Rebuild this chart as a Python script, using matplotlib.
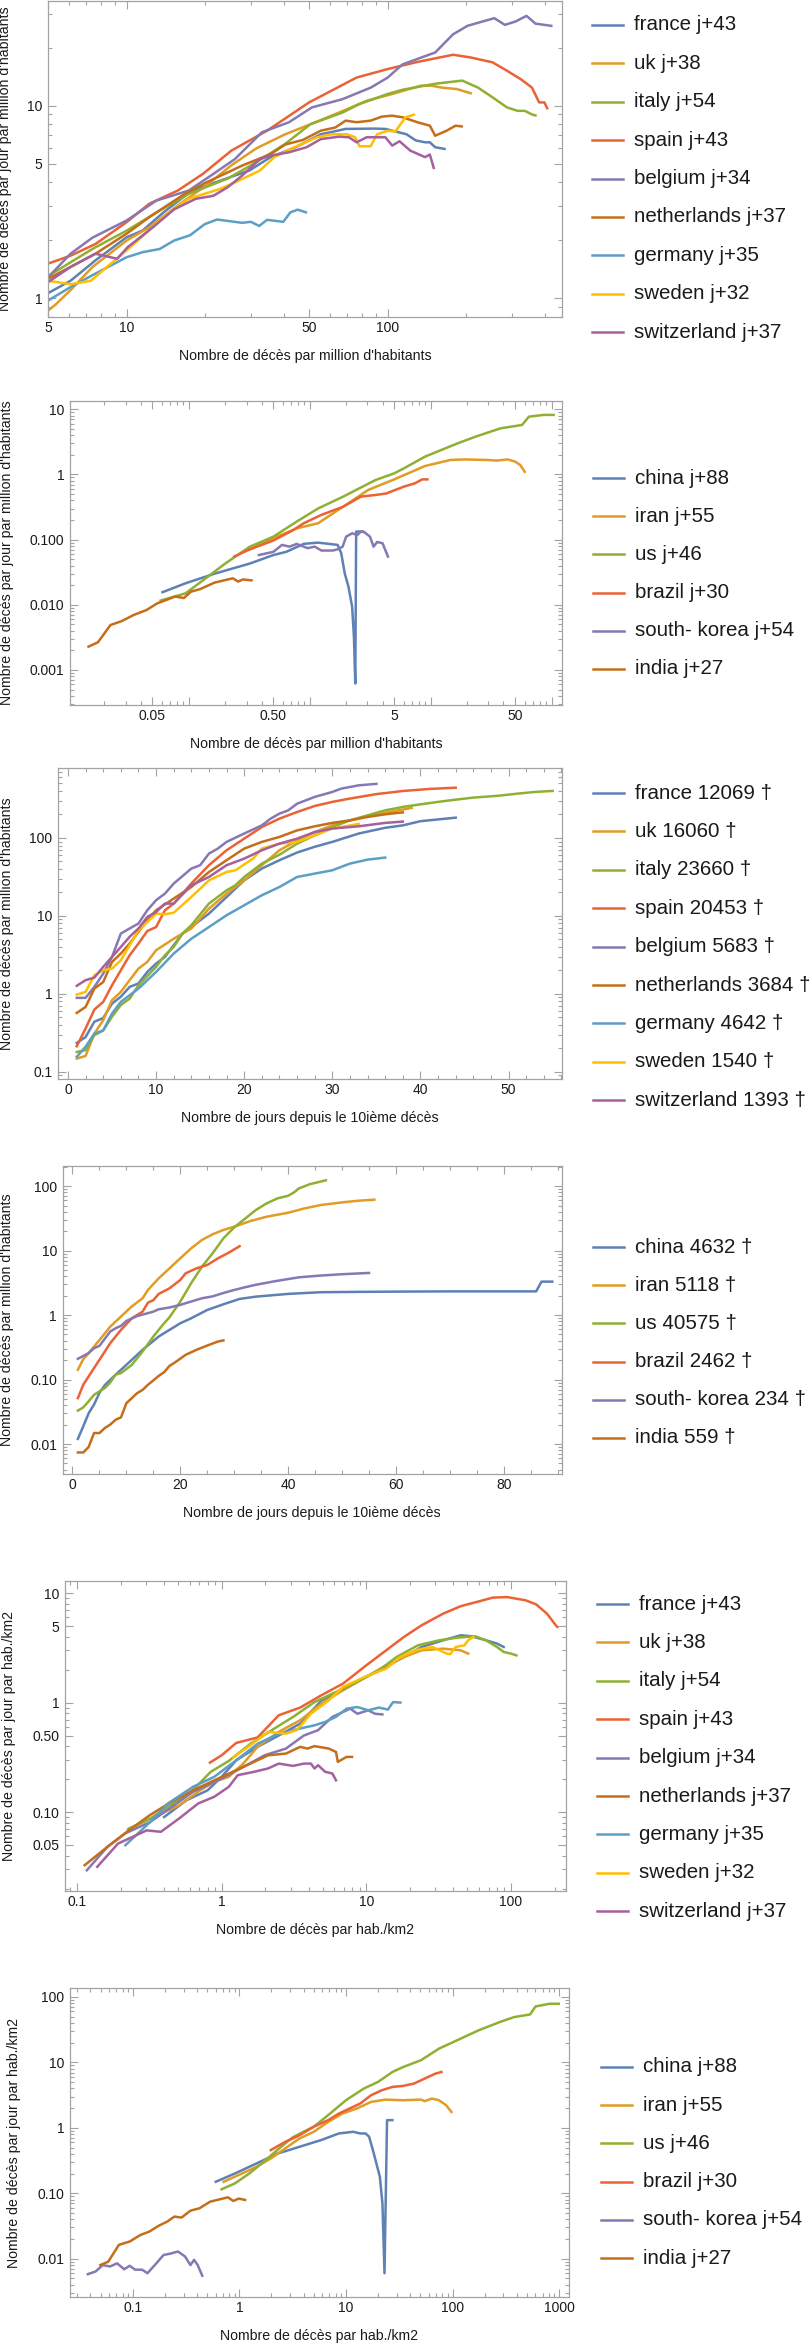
"""Covid-19 death curves per country: six stacked log panels, Mathematica look."""
import matplotlib
matplotlib.use("Agg")
import matplotlib.pyplot as plt
from matplotlib.lines import Line2D
from matplotlib.ticker import FixedLocator, FixedFormatter, NullFormatter

W, H = 809, 2345
plt.rcParams["font.family"] = ["Liberation Sans", "DejaVu Sans"]

COLORS = {
    "france": "#5E81B5", "uk": "#E19C24", "italy": "#8FB032", "spain": "#EB6235",
    "belgium": "#8778B3", "netherlands": "#C56E1A", "germany": "#5D9EC7",
    "sweden": "#FFBF00", "switzerland": "#A5609D",
    "china": "#5E81B5", "iran": "#E19C24", "us": "#8FB032", "brazil": "#EB6235",
    "south_korea": "#8778B3", "india": "#C56E1A",
}
EUROPE = ["france", "uk", "italy", "spain", "belgium", "netherlands", "germany", "sweden", "switzerland"]
OTHERS = ["china", "iran", "us", "brazil", "south_korea", "india"]
NAMES = {"south_korea": "south- korea"}

lag_eu = [43, 38, 54, 43, 34, 37, 35, 32, 37]
lag_ot = [88, 55, 46, 30, 54, 27]
deaths_eu = [12069, 16060, 23660, 20453, 5683, 3684, 4642, 1540, 1393]
deaths_ot = [4632, 5118, 40575, 2462, 234, 559]

# panel 1 : daily deaths per million vs cumulative deaths per million (Europe)
p1_x = {
    "france": [5, 6.1, 7.6, 10, 11.5, 13.9, 17.8, 22.9, 29.5, 35.6, 44.4, 55.4, 69, 89, 98, 118, 128, 139, 145, 152, 165],
    "uk": [5, 5.37, 6.1, 7.4, 10, 12.2, 15.7, 20.2, 25.2, 31.4, 40.5, 50.5, 65, 83, 104, 134, 147, 162, 184, 208],
    "italy": [5, 7.4, 10, 13.4, 17.3, 24.4, 31.4, 40.5, 50.5, 67, 78, 100, 114, 152, 193, 222, 252, 286, 314, 335, 357, 368],
    "spain": [5, 6.1, 7.6, 10, 12.2, 15.7, 19.6, 25.2, 34.5, 50, 76, 100, 128, 178, 208, 252, 286, 324, 357, 380, 398, 408],
    "belgium": [5, 6.1, 7.4, 10, 13.0, 17.3, 21.5, 26, 33, 41.8, 51.3, 67, 86, 100, 114, 152, 178, 202, 256, 281, 309, 340, 368, 423],
    "netherlands": [5, 7.6, 10, 12.2, 16.7, 20.2, 27.7, 35.6, 40.5, 47.4, 55.4, 63, 69, 76, 86, 95, 104, 114, 130, 145, 152, 168, 182, 192],
    "germany": [5, 6.1, 7.6, 10, 11.5, 13.4, 15.2, 17.5, 19.9, 22.2, 27.7, 29.9, 32.2, 34.5, 39.8, 42.4, 45.2, 48.6],
    "sweden": [5, 6.1, 7.3, 8.4, 10, 11.8, 14.3, 17.3, 22.9, 26, 32.4, 36.8, 44.4, 53.6, 60.9, 70, 75, 78, 86, 91, 99.7, 107, 117, 126],
    "switzerland": [5, 6.1, 7.6, 9.2, 10.1, 12.6, 15.2, 18.4, 21.5, 24.4, 27.7, 32.4, 35.6, 41.8, 48.9, 55.4, 65, 71, 76, 83, 98, 104, 111, 122, 139, 145, 150],
}
p1_y = {
    "france": [1.06, 1.23, 1.57, 2.07, 2.24, 2.8, 3.62, 4.08, 4.6, 5.4, 6.08, 7.1, 7.57, 7.6, 7.57, 7.1, 6.6, 6.45, 6.45, 6.08, 5.96],
    "uk": [0.86, 0.93, 1.10, 1.45, 1.99, 2.33, 3.03, 3.85, 4.9, 6.0, 7.1, 8.0, 9.2, 10.6, 11.5, 12.7, 12.7, 12.4, 12.2, 11.6],
    "italy": [1.30, 1.80, 2.24, 2.85, 3.48, 4.18, 5.08, 6.33, 8.0, 9.2, 10.2, 11.5, 12.1, 13.0, 13.5, 12.4, 11.05, 9.8, 9.4, 9.4, 9.0, 8.9],
    "spain": [1.51, 1.66, 1.91, 2.48, 3.09, 3.62, 4.42, 5.84, 7.41, 10.4, 14.0, 15.5, 16.8, 18.4, 17.8, 16.8, 15.2, 13.7, 12.4, 10.4, 10.4, 9.7],
    "belgium": [1.28, 1.70, 2.06, 2.53, 3.21, 3.62, 4.42, 5.28, 7.28, 8.19, 9.8, 10.8, 12.4, 14.0, 16.4, 18.9, 23.5, 26.0, 28.5, 26.3, 27.4, 29.3, 26.7, 26.0],
    "netherlands": [1.26, 1.70, 2.16, 2.63, 3.48, 3.99, 4.88, 5.6, 6.28, 6.64, 7.41, 7.7, 8.36, 8.2, 8.36, 8.77, 8.87, 8.7, 8.2, 7.87, 6.98, 7.41, 7.87, 7.8],
    "germany": [0.97, 1.14, 1.34, 1.63, 1.73, 1.80, 1.99, 2.12, 2.42, 2.56, 2.46, 2.49, 2.37, 2.55, 2.49, 2.79, 2.88, 2.79],
    "sweden": [1.23, 1.18, 1.23, 1.45, 1.77, 2.16, 2.74, 3.28, 3.7, 3.99, 4.6, 5.4, 6.12, 6.85, 7.1, 7.1, 6.85, 6.15, 6.15, 7.1, 7.4, 7.35, 8.7, 8.98],
    "switzerland": [1.21, 1.45, 1.70, 1.60, 1.84, 2.33, 2.89, 3.28, 3.4, 3.77, 4.33, 5.28, 5.5, 5.72, 6.08, 6.7, 6.9, 6.85, 6.45, 6.85, 6.85, 6.2, 6.53, 5.84, 5.4, 5.57, 4.75],
}

# panel 2 : same, other countries
p2_x = {
    "china": [0.0605, 0.094, 0.163, 0.32, 0.5, 0.64, 0.89, 1.17, 1.44, 1.70, 1.82, 1.95, 2.09, 2.24, 2.32, 2.38, 2.42, 2.55, 2.75],
    "iran": [0.32, 0.5, 0.78, 1.17, 1.89, 3.04, 5, 9.0, 14.6, 19.1, 28.8, 35.3, 43.3, 49.7, 55, 60],
    "us": [0.0585, 0.094, 0.132, 0.2, 0.32, 0.5, 0.78, 1.17, 1.89, 3.49, 5, 6.0, 9.0, 16.7, 23.5, 37.8, 57, 65, 86, 104],
    "brazil": [0.237, 0.32, 0.5, 0.73, 0.89, 1.25, 1.89, 2.65, 3.49, 4.28, 6.0, 7.4, 8.5, 9.4],
    "south_korea": [0.38, 0.5, 0.59, 0.68, 0.78, 0.96, 1.1, 1.25, 1.55, 1.7, 1.87, 2.0, 2.24, 2.48, 2.65, 2.83, 3.15, 3.37, 3.61, 4.0, 4.43],
    "india": [0.0148, 0.0177, 0.0225, 0.0277, 0.0351, 0.0446, 0.0546, 0.067, 0.0768, 0.091, 0.104, 0.124, 0.163, 0.231, 0.256, 0.28, 0.33],
}
p2_y = {
    "china": [0.0156, 0.0214, 0.030, 0.043, 0.058, 0.065, 0.086, 0.090, 0.086, 0.083, 0.062, 0.030, 0.019, 0.0094, 0.00325, 0.00062, 0.133, 0.133, 0.133],
    "iran": [0.071, 0.105, 0.149, 0.178, 0.32, 0.578, 0.84, 1.35, 1.67, 1.70, 1.67, 1.63, 1.70, 1.58, 1.40, 1.10],
    "us": [0.0116, 0.015, 0.024, 0.043, 0.078, 0.111, 0.189, 0.30, 0.457, 0.82, 1.04, 1.24, 1.88, 3.0, 3.8, 5.1, 5.75, 7.7, 8.2, 8.2],
    "brazil": [0.055, 0.071, 0.097, 0.14, 0.178, 0.24, 0.32, 0.457, 0.484, 0.51, 0.65, 0.73, 0.84, 0.84],
    "south_korea": [0.058, 0.065, 0.083, 0.078, 0.086, 0.074, 0.078, 0.068, 0.068, 0.071, 0.078, 0.111, 0.125, 0.118, 0.133, 0.13, 0.111, 0.078, 0.092, 0.088, 0.055],
    "india": [0.00228, 0.00266, 0.0049, 0.0056, 0.007, 0.0083, 0.0105, 0.0121, 0.0134, 0.0127, 0.0159, 0.0174, 0.0219, 0.0255, 0.0227, 0.0245, 0.0237],
}

# panel 3 : cumulative deaths per million vs days since 10th death (Europe)
p3_days = {
    "france": [1, 2, 3, 4, 5, 6, 7, 8, 9, 10, 11, 13, 15, 16, 18, 20, 22, 24, 26, 28, 30, 33, 36, 38, 40, 44],
    "uk": [1, 2, 3, 4, 5, 6, 7, 8, 9, 10, 12, 14, 16, 18, 20, 22, 24, 26, 28, 30, 32, 34, 36, 39],
    "italy": [1, 2, 3, 4, 5, 6, 7, 8, 10, 11, 12, 13, 14, 16, 18, 19, 20, 22, 24, 26, 28, 30, 32, 34, 36, 38, 40, 42, 44, 46, 49, 51, 53, 55],
    "spain": [1, 2, 3, 4, 5, 6, 7, 8, 9, 10, 11, 12, 14, 16, 18, 20, 22, 24, 26, 28, 30, 32, 35, 38, 41, 44],
    "belgium": [1, 2, 3, 4, 5, 6, 7, 8, 9, 10, 11, 12, 14, 15, 16, 17, 18, 20, 22, 23, 24, 25, 26, 28, 30, 31, 33, 35],
    "netherlands": [1, 2, 3, 4, 5, 6, 7, 8, 9, 10, 12, 14, 16, 18, 20, 22, 24, 26, 28, 30, 32, 34, 36, 38],
    "germany": [1, 2, 3, 4, 5, 6, 7, 8, 10, 12, 14, 16, 18, 20, 22, 24, 26, 28, 30, 32, 34, 36],
    "sweden": [1, 2, 3, 4, 5, 6, 7, 8, 10, 11, 12, 14, 16, 18, 19, 21, 22, 24, 26, 28, 30, 33],
    "switzerland": [1, 2, 3, 4, 5, 6, 7, 8, 9, 10, 11, 12, 14, 16, 18, 20, 22, 24, 26, 28, 30, 33, 36, 38],
}
p3_y = {
    "france": [0.235, 0.28, 0.44, 0.49, 0.75, 0.92, 1.23, 1.36, 1.91, 2.45, 2.98, 5.94, 8.8, 10.7, 17.5, 28.6, 40.5, 51.8, 65, 77, 89, 114, 135, 145, 164, 182],
    "uk": [0.148, 0.16, 0.31, 0.46, 0.83, 1.06, 1.5, 2.11, 2.57, 3.63, 5.1, 6.9, 12.4, 19.3, 28.6, 44.7, 69.5, 93, 119, 145, 168, 190, 210, 243],
    "italy": [0.18, 0.19, 0.295, 0.34, 0.51, 0.72, 0.87, 1.29, 2.22, 3.13, 4.0, 5.94, 7.6, 14.4, 21.3, 24.7, 31.6, 46.9, 61, 84.5, 108, 138, 168, 195, 226, 250, 270, 290, 310, 329, 349, 370, 389, 401],
    "spain": [0.213, 0.36, 0.63, 0.79, 1.29, 2.01, 3.13, 4.42, 6.4, 7.2, 11.8, 14.4, 26, 44.7, 69.5, 98, 138, 177, 215, 257, 290, 320, 365, 400, 425, 441],
    "belgium": [0.89, 0.89, 1.23, 1.82, 2.98, 5.94, 6.9, 8.0, 11.8, 15.9, 19.3, 26.0, 40.5, 44.7, 63, 73, 89, 114, 145, 177, 205, 226, 275, 336, 389, 429, 473, 494],
    "netherlands": [0.57, 0.68, 1.17, 1.42, 2.57, 3.29, 4.42, 6.24, 8.8, 11.8, 16.7, 23.5, 36.6, 51.8, 73, 89, 103, 125, 141, 156, 168, 186, 201, 213],
    "germany": [0.156, 0.21, 0.31, 0.34, 0.56, 0.79, 0.96, 1.17, 1.91, 3.29, 5.1, 7.2, 10.2, 13.7, 18.4, 23.5, 31.6, 34.9, 38.5, 46.9, 52.7, 56],
    "sweden": [0.98, 1.06, 1.73, 2.01, 2.11, 2.7, 4.2, 6.5, 10.7, 10.5, 11.0, 17.5, 28.6, 36.6, 38.5, 54.3, 73, 84.5, 89, 108, 132, 151],
    "switzerland": [1.27, 1.5, 1.62, 2.22, 2.98, 4.0, 5.4, 6.9, 9.7, 11.2, 14.4, 14.4, 24.7, 31.6, 44.7, 54.3, 69.5, 84.5, 98, 119, 132, 141, 156, 162],
}

# panel 4 : same, other countries
p4_days = {
    "china": [1, 2, 3, 4, 5, 6, 8, 10, 13, 16, 20, 22, 25, 28, 31, 34, 40, 46, 53, 60, 70, 80, 86, 87, 89],
    "iran": [1, 2, 3, 5, 7, 9, 11, 13, 14, 16, 18, 20, 22, 24, 26, 28, 30, 33, 36, 40, 43, 46, 50, 53, 56],
    "us": [1, 2, 3, 4, 6, 7, 8, 9, 11, 13, 15, 17, 18, 20, 22, 24, 26, 28, 30, 32, 34, 36, 38, 40, 41, 42, 44, 47],
    "brazil": [1, 2, 3, 5, 7, 9, 11, 13, 14, 15, 16, 18, 20, 21, 23, 25, 27, 29, 31],
    "south_korea": [1, 3, 4, 5, 7, 8, 9, 10, 12, 14, 15, 16, 18, 20, 22, 24, 26, 28, 30, 32, 34, 38, 42, 46, 50, 55],
    "india": [1, 2, 3, 4, 5, 6, 7, 8, 9, 10, 11, 12, 13, 14, 15, 16, 17, 18, 19, 21, 23, 25, 27, 28],
}
p4_y = {
    "china": [0.012, 0.0188, 0.030, 0.041, 0.062, 0.082, 0.119, 0.169, 0.289, 0.465, 0.747, 0.89, 1.2, 1.47, 1.78, 1.93, 2.13, 2.26, 2.29, 2.31, 2.33, 2.33, 2.33, 3.3, 3.3],
    "iran": [0.142, 0.207, 0.257, 0.41, 0.66, 0.95, 1.36, 1.82, 2.45, 3.72, 5.3, 7.6, 10.8, 14.6, 17.9, 20.9, 23.5, 28.7, 33.5, 38.6, 45, 50.8, 55.9, 59.3, 61.6],
    "us": [0.033, 0.037, 0.046, 0.058, 0.074, 0.090, 0.119, 0.126, 0.169, 0.272, 0.465, 0.747, 0.925, 1.62, 3.11, 5.6, 9.1, 15.5, 22.9, 31.2, 42.5, 53.9, 64.4, 70.8, 78.9, 92, 107, 123],
    "brazil": [0.0515, 0.083, 0.112, 0.202, 0.366, 0.59, 0.89, 1.13, 1.56, 1.70, 2.13, 2.6, 3.5, 4.45, 5.3, 5.98, 7.6, 9.3, 11.7],
    "south_korea": [0.21, 0.257, 0.306, 0.333, 0.556, 0.625, 0.68, 0.81, 0.966, 1.07, 1.13, 1.23, 1.31, 1.44, 1.62, 1.82, 1.95, 2.2, 2.45, 2.7, 2.95, 3.4, 3.85, 4.1, 4.3, 4.5],
    "india": [0.0074, 0.0074, 0.009, 0.0148, 0.0148, 0.0177, 0.02, 0.0238, 0.0259, 0.043, 0.0515, 0.0616, 0.069, 0.083, 0.097, 0.114, 0.13, 0.163, 0.184, 0.242, 0.289, 0.337, 0.389, 0.405],
}

# panel 5 : daily deaths per hab./km2 vs cumulative deaths per hab./km2 (Europe)
p5_x = {
    "france": [0.40, 0.57, 0.8, 1, 1.26, 1.77, 2.48, 3.49, 4.91, 6.9, 10, 13.7, 18.2, 24.1, 34, 45, 53.5, 67, 80, 89],
    "uk": [0.225, 0.32, 0.506, 0.71, 0.89, 1.12, 1.41, 1.77, 2.48, 3.49, 4.91, 6.9, 10, 13.7, 18.2, 24.1, 34, 45, 50.6],
    "italy": [0.228, 0.32, 0.48, 0.6, 0.84, 1.12, 1.58, 2.22, 3.12, 4.38, 6.17, 8.67, 12.2, 16.2, 22.8, 32, 42.6, 56.6, 67, 80, 89, 100, 109],
    "spain": [0.83, 1, 1.26, 1.77, 2.48, 3.49, 4.91, 6.9, 10, 13.7, 18.2, 24.1, 34, 45, 60, 75, 94, 126, 149, 177, 192, 204, 209],
    "belgium": [0.117, 0.162, 0.216, 0.32, 0.45, 0.634, 1, 1.41, 1.98, 2.78, 3.7, 4.64, 5.82, 7.74, 8.67, 10.3, 11.5, 12.9],
    "netherlands": [0.113, 0.162, 0.228, 0.32, 0.45, 0.634, 0.89, 1.19, 1.58, 2.09, 2.78, 3.49, 3.92, 4.38, 5.5, 6.17, 6.35, 7.3, 7.96],
    "germany": [0.216, 0.32, 0.426, 0.634, 0.89, 1.26, 1.77, 2.48, 3.49, 4.38, 5.2, 6.17, 7.3, 8.67, 10.3, 12.2, 14.1, 15.3, 17.2],
    "sweden": [1.2, 1.58, 2.09, 2.78, 3.3, 4.14, 5.5, 6.9, 9.8, 13.7, 17.2, 22.8, 28.6, 34, 36, 38, 41.4, 47.7, 50.6, 55],
    "switzerland": [0.138, 0.192, 0.303, 0.38, 0.506, 0.69, 0.89, 1.12, 1.29, 1.67, 2.09, 2.48, 3.12, 3.7, 4.14, 4.38, 4.64, 5.2, 5.82, 6.17],
}
p5_y = {
    "france": [0.09, 0.128, 0.158, 0.21, 0.297, 0.394, 0.50, 0.643, 1.05, 1.3, 1.72, 2.12, 2.61, 3.22, 3.71, 4.12, 4.03, 3.71, 3.46, 3.22],
    "uk": [0.0688, 0.087, 0.115, 0.158, 0.189, 0.21, 0.277, 0.394, 0.54, 0.69, 0.98, 1.3, 1.72, 2.19, 2.61, 3.0, 3.11, 3.0, 2.8],
    "italy": [0.0706, 0.087, 0.124, 0.148, 0.233, 0.293, 0.42, 0.56, 0.74, 1.01, 1.25, 1.55, 1.97, 2.61, 3.34, 3.71, 3.92, 4.03, 3.71, 3.22, 2.9, 2.8, 2.7],
    "spain": [0.283, 0.33, 0.428, 0.48, 0.766, 0.9, 1.17, 1.49, 2.19, 3.0, 3.98, 5.08, 6.5, 7.6, 8.4, 9.1, 9.2, 8.6, 7.9, 6.5, 5.65, 5.08, 4.91],
    "belgium": [0.0294, 0.048, 0.064, 0.081, 0.111, 0.153, 0.202, 0.258, 0.33, 0.38, 0.50, 0.56, 0.74, 0.88, 0.79, 0.85, 0.79, 0.78],
    "netherlands": [0.0327, 0.048, 0.068, 0.094, 0.124, 0.158, 0.195, 0.233, 0.277, 0.33, 0.342, 0.394, 0.38, 0.40, 0.38, 0.354, 0.287, 0.319, 0.319],
    "germany": [0.0498, 0.081, 0.12, 0.17, 0.21, 0.297, 0.42, 0.52, 0.58, 0.62, 0.666, 0.74, 0.88, 0.91, 0.85, 0.9, 0.863, 1.01, 1.0],
    "sweden": [0.315, 0.408, 0.54, 0.52, 0.56, 0.79, 1.05, 1.39, 1.72, 2.04, 2.61, 3.05, 3.22, 2.9, 2.8, 2.77, 3.22, 3.34, 3.71, 3.98],
    "switzerland": [0.0316, 0.0515, 0.068, 0.066, 0.087, 0.12, 0.138, 0.17, 0.217, 0.233, 0.25, 0.277, 0.264, 0.277, 0.277, 0.25, 0.268, 0.233, 0.225, 0.195],
}

# panel 6 : same, other countries
p6_x = {
    "china": [0.6, 0.91, 1.45, 2.3, 3.66, 5.82, 8.57, 11.7, 13.6, 15.3, 16.5, 17.9, 19.3, 20.8, 22, 23, 24.3, 27.3],
    "iran": [0.71, 1.06, 1.45, 1.97, 2.69, 3.66, 4.99, 6.8, 9.25, 12.6, 17.2, 23.4, 34.4, 50.7, 54.7, 63.9, 74.5, 87, 97.7],
    "us": [0.68, 0.91, 1.24, 1.69, 2.3, 3.14, 4.27, 4.99, 6.8, 10, 14.7, 20, 27.3, 34.4, 50.7, 74.5, 102, 175, 277, 378, 535, 601, 818, 993],
    "brazil": [1.97, 2.69, 3.66, 4.99, 6.8, 8.57, 10.8, 13.6, 17.2, 21.7, 27.3, 34.4, 43.4, 54.7, 69, 78.7],
    "south_korea": [0.0378, 0.0448, 0.0523, 0.061, 0.0711, 0.083, 0.0933, 0.105, 0.122, 0.137, 0.166, 0.194, 0.227, 0.265, 0.309, 0.347, 0.375, 0.406, 0.448],
    "india": [0.0495, 0.0587, 0.074, 0.0933, 0.118, 0.143, 0.173, 0.21, 0.245, 0.286, 0.347, 0.421, 0.531, 0.78, 0.877, 0.985, 1.13],
}
p6_y = {
    "china": [0.15, 0.201, 0.286, 0.406, 0.513, 0.648, 0.82, 0.87, 0.82, 0.82, 0.73, 0.457, 0.286, 0.179, 0.070, 0.006, 1.31, 1.31],
    "iran": [0.15, 0.201, 0.254, 0.34, 0.484, 0.688, 0.87, 1.23, 1.65, 1.97, 2.49, 2.7, 2.64, 2.7, 2.55, 2.8, 2.64, 2.22, 1.75],
    "us": [0.115, 0.142, 0.201, 0.303, 0.467, 0.71, 0.92, 1.04, 1.56, 2.64, 3.98, 5.03, 7.14, 8.5, 10.8, 16.2, 20.5, 30.8, 41.3, 49.2, 54, 71.6, 78.7, 78.7],
    "brazil": [0.457, 0.61, 0.77, 1.04, 1.31, 1.65, 1.97, 2.35, 3.15, 3.75, 4.22, 4.37, 4.74, 5.65, 6.73, 7.14],
    "south_korea": [0.0058, 0.0064, 0.0080, 0.0076, 0.0085, 0.0069, 0.0078, 0.0068, 0.0068, 0.006, 0.0085, 0.0114, 0.012, 0.0129, 0.0108, 0.008, 0.0096, 0.008, 0.0055],
    "india": [0.008, 0.009, 0.0163, 0.0183, 0.0231, 0.026, 0.0316, 0.0369, 0.044, 0.0425, 0.0542, 0.0589, 0.0744, 0.0867, 0.0762, 0.083, 0.079],
}

XL_PM = "Nombre de décès par million d'habitants"
YL_PM_DAY = "Nombre de décès par jour par million d'habitants"
YL_PM = "Nombre de décès par million d'habitants"
XL_DAYS = "Nombre de jours depuis le 10ième décès"
XL_KM = "Nombre de décès par hab./km2"
YL_KM_DAY = "Nombre de décès par jour par hab./km2"

FRAME = "#a3a3a3"
TXT = "#1a1a1a"


def log_minor(e0, e1, skip=()):
    vals = [m * 10.0 ** e for e in range(e0, e1 + 1) for m in range(2, 10)]
    return [v for v in vals if not any(abs(v - s) < 1e-9 * max(1, s) for s in skip)]


def make_axes(fig, box):
    left, top, right, bottom = box
    return fig.add_axes([left / W, 1 - bottom / H, (right - left) / W, (bottom - top) / H])


def panel(fig, box, xs, ys, names, xlim, ylim, xlog, xticks, yticks,
          xminor, yminor, xlabel, ylabel, ylab_px):
    ax = make_axes(fig, box)
    for n in names:
        ax.plot(xs[n], ys[n], color=COLORS[n], lw=1.8, solid_joinstyle="round")
    if xlog:
        ax.set_xscale("log")
    ax.set_yscale("log")
    ax.set_xlim(*xlim)
    ax.set_ylim(*ylim)
    ax.xaxis.set_major_locator(FixedLocator([t[0] for t in xticks]))
    ax.xaxis.set_major_formatter(FixedFormatter([t[1] for t in xticks]))
    ax.yaxis.set_major_locator(FixedLocator([t[0] for t in yticks]))
    ax.yaxis.set_major_formatter(FixedFormatter([t[1] for t in yticks]))
    ax.xaxis.set_minor_locator(FixedLocator(xminor))
    ax.yaxis.set_minor_locator(FixedLocator(yminor))
    ax.xaxis.set_minor_formatter(NullFormatter())
    ax.yaxis.set_minor_formatter(NullFormatter())
    ax.tick_params(which="both", direction="in", top=True, right=True,
                   color=FRAME, width=0.8, labelcolor=TXT, labelsize=10)
    ax.tick_params(which="major", length=5.5)
    ax.tick_params(which="minor", length=3)
    ax.tick_params(axis="x", pad=3.2)
    ax.tick_params(axis="y", pad=4)
    for s in ax.spines.values():
        s.set_color(FRAME)
        s.set_linewidth(0.9)
    left, top, right, bottom = box
    w, h = right - left, bottom - top
    ax.set_xlabel(xlabel, fontsize=10.2, color=TXT)
    ax.set_ylabel(ylabel, fontsize=10.2, color=TXT)
    ax.xaxis.set_label_coords(0.5, -32 / h)
    ax.yaxis.set_label_coords((ylab_px - left) / w, 0.5)
    return ax


def legend(fig, names, labels, y0, step, x0):
    for i, (n, lab) in enumerate(zip(names, labels)):
        y = 1 - (y0 + i * step) / H
        fig.add_artist(Line2D([x0 / W, (x0 + 31) / W], [y, y], transform=fig.transFigure,
                              color=COLORS[n], lw=1.8))
        fig.text((x0 + 42) / W, y, lab, fontsize=14.8, color=TXT, va="center", ha="left")


def main():
    fig = plt.figure(figsize=(W / 100, H / 100), dpi=100)

    lab_lag_eu = [f"{NAMES.get(n, n)} j+{d}" for n, d in zip(EUROPE, lag_eu)]
    lab_lag_ot = [f"{NAMES.get(n, n)} j+{d}" for n, d in zip(OTHERS, lag_ot)]
    lab_dead_eu = [f"{NAMES.get(n, n)} {d} †" for n, d in zip(EUROPE, deaths_eu)]
    lab_dead_ot = [f"{NAMES.get(n, n)} {d} †" for n, d in zip(OTHERS, deaths_ot)]

    # 1
    panel(fig, (48, 1, 562, 317), p1_x, p1_y, EUROPE, (5, 465), (0.797, 35), True,
          [(5, "5"), (10, "10"), (50, "50"), (100, "100")],
          [(1, "1"), (5, "5"), (10, "10")],
          log_minor(0, 2, skip=(5, 50)),
          log_minor(-1, 1, skip=(5,)),
          XL_PM, YL_PM_DAY, 12)
    legend(fig, EUROPE, lab_lag_eu, 25, 38.4, 592)

    # 2
    panel(fig, (70, 401, 562, 705), p2_x, p2_y, OTHERS, (0.0104, 122), (0.00029, 13.4), True,
          [(0.05, "0.05"), (0.1, ""), (0.5, "0.50"), (1, ""), (5, "5"), (10, ""), (50, "50"), (100, "")],
          [(0.001, "0.001"), (0.01, "0.010"), (0.1, "0.100"), (1, "1"), (10, "10")],
          log_minor(-2, 2, skip=(0.05, 0.5, 5, 50)),
          log_minor(-4, 1),
          XL_PM, YL_PM_DAY, 14)
    legend(fig, OTHERS, lab_lag_ot, 478, 38.2, 593)

    # 3
    panel(fig, (58, 768, 562, 1079), p3_days, p3_y, EUROPE, (-1.13, 56.06), (0.081, 789), False,
          [(v, str(v)) for v in range(0, 60, 10)],
          [(0.1, "0.1"), (1, "1"), (10, "10"), (100, "100")],
          [v for v in range(0, 57, 2) if v % 10],
          log_minor(-2, 2),
          XL_DAYS, YL_PM, 14)
    legend(fig, EUROPE, lab_dead_eu, 793, 38.4, 593)

    # 4
    panel(fig, (62.5, 1166, 562, 1474), p4_days, p4_y, OTHERS, (-1.85, 90.8), (0.00343, 205), False,
          [(v, str(v)) for v in range(0, 100, 20)],
          [(0.01, "0.01"), (0.1, "0.10"), (1, "1"), (10, "10"), (100, "100")],
          [v for v in range(0, 91, 5) if v % 20],
          log_minor(-3, 2),
          XL_DAYS, YL_PM, 14)
    legend(fig, OTHERS, lab_dead_ot, 1247, 38.2, 593)

    # 5
    panel(fig, (65, 1581, 566, 1891), p5_x, p5_y, EUROPE, (0.0826, 240), (0.019, 12.9), True,
          [(0.1, "0.1"), (1, "1"), (10, "10"), (100, "100")],
          [(0.05, "0.05"), (0.1, "0.10"), (0.5, "0.50"), (1, "1"), (5, "5"), (10, "10")],
          log_minor(-2, 2),
          log_minor(-2, 1, skip=(0.05, 0.5, 5)),
          XL_KM, YL_KM_DAY, 16)
    legend(fig, EUROPE, lab_lag_eu, 1604, 38.4, 597)

    # 6
    panel(fig, (70, 1988, 569, 2297), p6_x, p6_y, OTHERS, (0.0257, 1240), (0.0026, 137), True,
          [(0.1, "0.1"), (1, "1"), (10, "10"), (100, "100"), (1000, "1000")],
          [(0.01, "0.01"), (0.1, "0.10"), (1, "1"), (10, "10"), (100, "100")],
          log_minor(-2, 3),
          log_minor(-3, 2),
          XL_KM, YL_KM_DAY, 21)
    legend(fig, OTHERS, lab_lag_ot, 2067, 38.2, 601)

    fig.savefig("out.png", dpi=100)
    plt.close(fig)


if __name__ == "__main__":
    main()
